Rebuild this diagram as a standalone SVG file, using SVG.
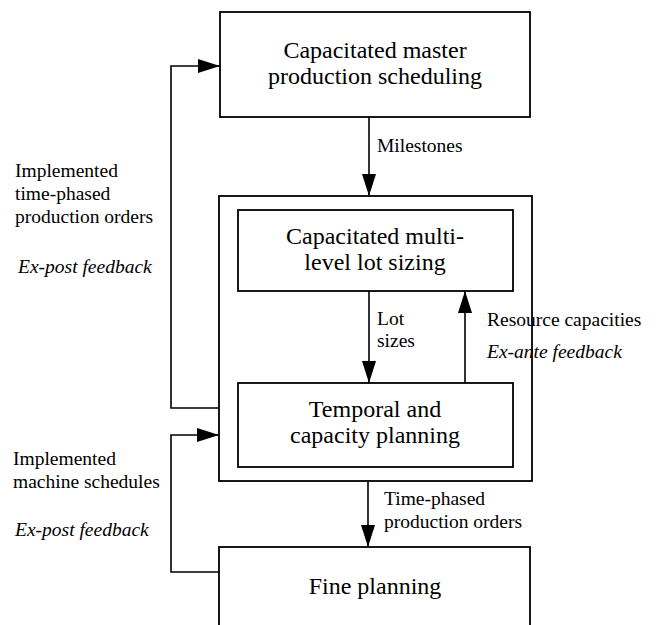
<svg xmlns="http://www.w3.org/2000/svg" width="659" height="625" viewBox="0 0 659 625">
<style>
.box{fill:none;stroke:#000;stroke-width:1.8}
.ln{fill:none;stroke:#000;stroke-width:1.6}
.t{font-family:"Liberation Serif","DejaVu Serif",serif;fill:#000}
.big{font-size:24px;text-anchor:middle}
.lab{font-size:19.5px}
.it{font-style:italic}
</style>
<defs>
<marker id="ah" viewBox="0 0 22 14" refX="22" refY="7" markerWidth="22" markerHeight="14" markerUnits="userSpaceOnUse" orient="auto">
<path d="M0,0 L22,7 L0,14 Z" fill="#000"/>
</marker>
</defs>
<rect width="659" height="625" fill="#fff"/>
<g id="master">
<rect class="box" x="220" y="12" width="310" height="105"/>
<text class="t big" x="375" y="58">Capacitated master</text>
<text class="t big" x="375" y="84">production scheduling</text>
</g>
<g id="outer">
<rect class="box" x="219" y="196" width="313" height="285"/>
</g>
<g id="lotsizing">
<rect class="box" x="238" y="210" width="275" height="81"/>
<text class="t big" x="375" y="244">Capacitated multi-</text>
<text class="t big" x="375" y="270">level lot sizing</text>
</g>
<g id="temporal">
<rect class="box" x="238" y="383" width="275" height="84"/>
<text class="t big" x="375" y="417">Temporal and</text>
<text class="t big" x="375" y="443">capacity planning</text>
</g>
<g id="fine">
<rect class="box" x="219" y="547" width="311" height="100"/>
<text class="t big" x="375" y="594">Fine planning</text>
</g>
<g id="connectors">
<line class="ln" x1="369" y1="117" x2="369" y2="196" marker-end="url(#ah)"/>
<line class="ln" x1="369" y1="291" x2="369" y2="383" marker-end="url(#ah)"/>
<line class="ln" x1="465" y1="383" x2="465" y2="291" marker-end="url(#ah)"/>
<line class="ln" x1="368" y1="481" x2="368" y2="547" marker-end="url(#ah)"/>
<polyline class="ln" points="219,408 171,408 171,66 220,66" marker-end="url(#ah)"/>
<polyline class="ln" points="219,572 171,572 171,435 219,435" marker-end="url(#ah)"/>
</g>
<g id="labels">
<text class="t lab" x="377" y="152">Milestones</text>
<text class="t lab" x="15" y="177">Implemented</text>
<text class="t lab" x="15" y="200">time-phased</text>
<text class="t lab" x="15" y="223">production orders</text>
<text class="t lab it" x="18" y="273">Ex-post feedback</text>
<text class="t lab" x="377" y="325">Lot</text>
<text class="t lab" x="377" y="347">sizes</text>
<text class="t lab" x="487" y="326">Resource capacities</text>
<text class="t lab it" x="487" y="358">Ex-ante feedback</text>
<text class="t lab" x="13" y="465">Implemented</text>
<text class="t lab" x="13" y="488">machine schedules</text>
<text class="t lab it" x="15" y="536">Ex-post feedback</text>
<text class="t lab" x="384" y="505">Time-phased</text>
<text class="t lab" x="384" y="528">production orders</text>
</g>
</svg>
